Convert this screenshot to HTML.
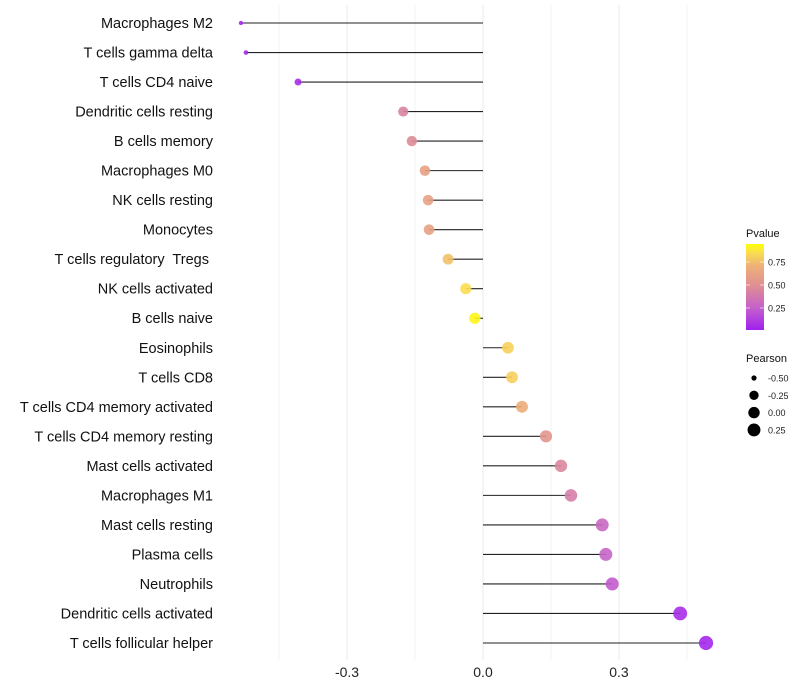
<!DOCTYPE html>
<html><head><meta charset="utf-8"><style>
body{margin:0;background:#fff;}
svg{display:block;font-family:"Liberation Sans",Arial,sans-serif;}
text{white-space:pre;}
</style></head><body>
<svg id="c" width="800" height="700"></svg>
<script>
const categories=["Macrophages M2","T cells gamma delta","T cells CD4 naive","Dendritic cells resting","B cells memory","Macrophages M0","NK cells resting","Monocytes","T cells regulatory  Tregs ","NK cells activated","B cells naive","Eosinophils","T cells CD8","T cells CD4 memory activated","T cells CD4 memory resting","Mast cells activated","Macrophages M1","Mast cells resting","Plasma cells","Neutrophils","Dendritic cells activated","T cells follicular helper"];
const pearson=[-0.534,-0.523,-0.408,-0.176,-0.157,-0.128,-0.121,-0.119,-0.077,-0.038,-0.018,0.055,0.064,0.086,0.139,0.172,0.194,0.263,0.271,0.285,0.435,0.492];
const pvalue=[0.03,0.03,0.05,0.45,0.5,0.64,0.64,0.64,0.8,0.9,0.97,0.86,0.85,0.72,0.57,0.47,0.42,0.3,0.28,0.24,0.06,0.03];
const xTicks=[-0.3,0,0.3];
const xTickLabels=["-0.3","0.0","0.3"];
const xMinor=[-0.45,-0.15,0.15,0.45];
const pTicks=[0.25,0.5,0.75];
const sizeTicks=[-0.5,-0.25,0,0.25];

const NS="http://www.w3.org/2000/svg";
const svg=document.getElementById('c');
function mk(t,a,p){const e=document.createElementNS(NS,t);for(const k in a)e.setAttribute(k,a[k]);(p||svg).appendChild(e);return e;}
const X=v=>483+v*453.3;
const Y=i=>23+i*(620/21);
function R(v){const a=v<-0.18?26+(v+0.18)*60:26+(v+0.18)*36;return Math.sqrt(Math.max(3,a));}
const stops=[[0,[160,32,240]],[0.25,[195,95,205]],[0.5,[222,140,150]],[0.75,[238,178,118]],[0.9,[250,222,80]],[1,[255,255,0]]];
function col(p){for(let i=1;i<stops.length;i++){if(p<=stops[i][0]){const a=stops[i-1],b=stops[i],t=(p-a[0])/(b[0]-a[0]);return 'rgb('+a[1].map((c,j)=>Math.round(c+(b[1][j]-c)*t)).join(',')+')';}}return 'rgb(255,255,0)';}

xMinor.concat(xTicks).forEach(v=>{
  const g=mk('line',{x1:X(v),x2:X(v),y1:5,y2:660,stroke:'#ebebeb','stroke-width':xTicks.includes(v)?1.1:0.6});
  
  
});
xTicks.forEach((v,i)=>{
  const t=mk('text',{x:X(v),y:677,'text-anchor':'middle','font-size':14,fill:'#222'});
  t.textContent=xTickLabels[i];
  
  
});
categories.forEach((c,i)=>{
  const y=Y(i);
  const t=mk('text',{x:213,y:y+5,'text-anchor':'end','font-size':14.5,fill:'#111'});
  t.textContent=c;
  
  
  const l=mk('line',{x1:X(0),x2:X(pearson[i]),y1:y,y2:y,stroke:'#222','stroke-width':1.1});
  
  
  const p=mk('circle',{cx:X(pearson[i]),cy:y,r:R(pearson[i]),fill:col(pvalue[i]),'fill-opacity':0.9});
  
  
});
const defs=mk('defs',{});
const lg=mk('linearGradient',{id:'g',x1:0,y1:1,x2:0,y2:0},defs);
stops.forEach(s=>mk('stop',{offset:s[0],'stop-color':col(s[0])},lg));
const tt=mk('text',{x:746,y:237,'font-size':11,fill:'#111'});tt.textContent='Pvalue';


const cb=mk('rect',{x:746,y:244,width:18,height:86,fill:'url(#g)'});


const PY=p=>331-p*92;
pTicks.forEach(p=>{
  mk('line',{x1:746,x2:750,y1:PY(p),y2:PY(p),stroke:'#fff','stroke-opacity':0.6});
  mk('line',{x1:760,x2:764,y1:PY(p),y2:PY(p),stroke:'#fff','stroke-opacity':0.6});
  const t=mk('text',{x:768,y:PY(p)+3.5,'font-size':9,fill:'#222'});t.textContent=p.toFixed(2);
  
  
});
const st=mk('text',{x:746,y:362,'font-size':11,fill:'#111'});st.textContent='Pearson';


sizeTicks.forEach((v,i)=>{
  const y=378+i*17.3;
  const c=mk('circle',{cx:754,cy:y,r:R(v),fill:'#000'});
  
  
  const t=mk('text',{x:768,y:y+3.5,'font-size':9,fill:'#222'});t.textContent=v.toFixed(2);
  
  
});
</script>
</body></html>
